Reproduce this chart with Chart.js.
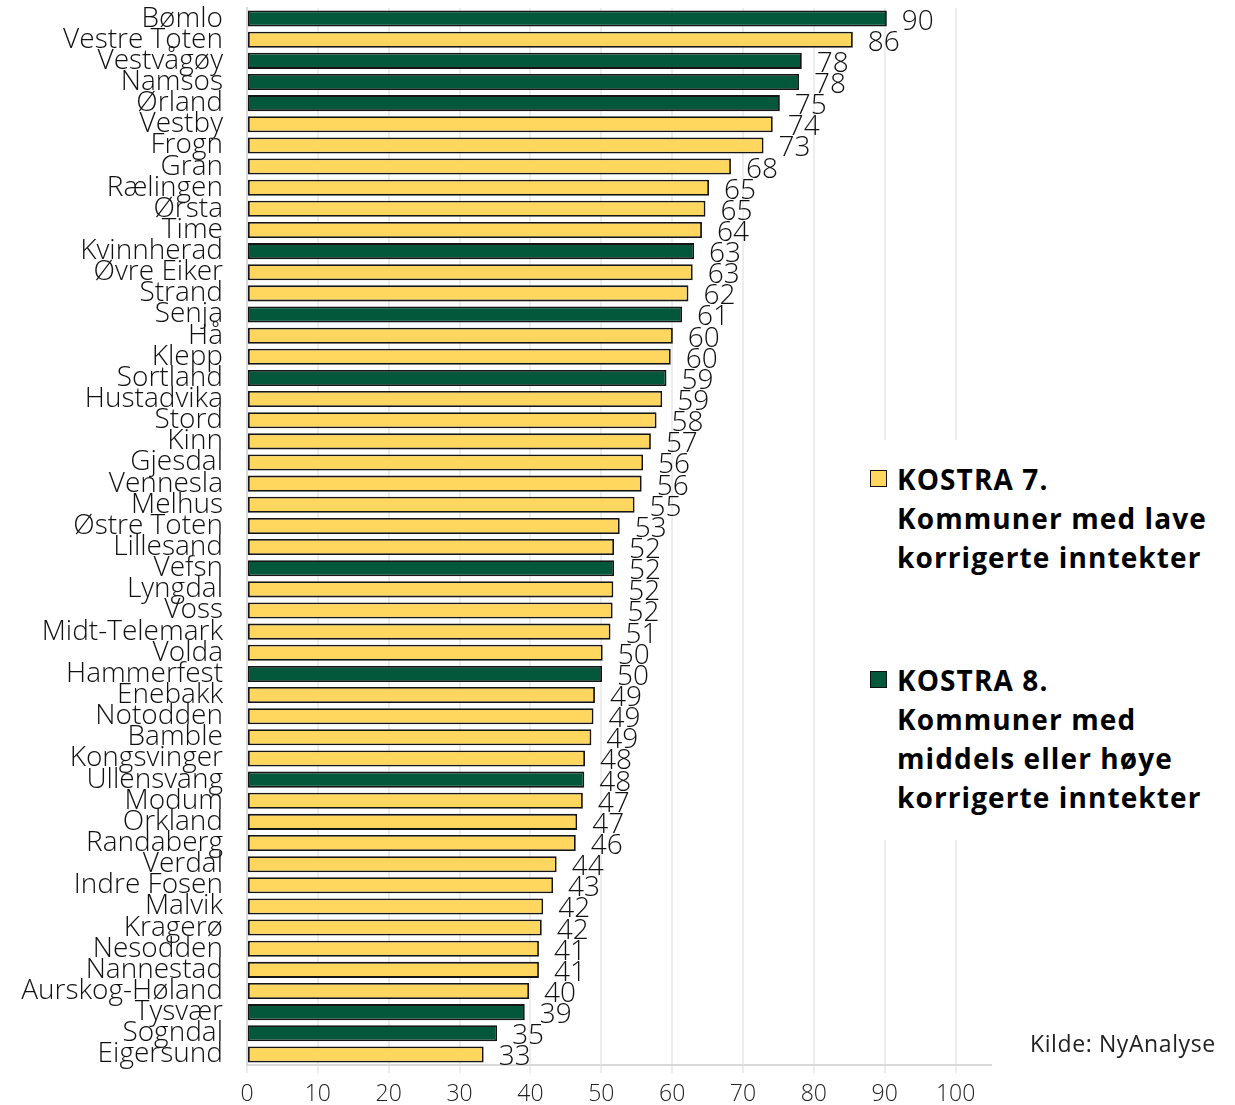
<!DOCTYPE html>
<html lang="no">

<head>
  <meta charset="UTF-8" />
  <title>KOSTRA 7 og 8</title>
  <script src="https://cdn.jsdelivr.net/npm/chart.js"></script>
  <style>
    body {
      margin: 0;
      background: #fff;
    }

    #wrap {
      position: relative;
      width: 1235px;
      height: 1105px;
    }

    #legendBox {
      position: absolute;
      left: 860px;
      top: 440px;
      width: 375px;
      height: 400px;
      background: #fff;
      font-family: "Century Gothic", "Open Sans", sans-serif;
      font-weight: 700;
      font-size: 28px;
      line-height: 39px;
      letter-spacing: 1.1px;
      color: #000;
    }

    .leg {
      position: absolute;
      left: 37px;
      white-space: nowrap;
    }

    .sq {
      position: absolute;
      left: 10px;
      width: 15px;
      height: 15px;
      border: 1.5px solid #111;
    }

    #kilde {
      position: absolute;
      left: 1030px;
      top: 1027px;
      font-family: "Century Gothic", "Open Sans", sans-serif;
      font-size: 23px;
      letter-spacing: 0.6px;
      color: #222;
    }
  </style>
</head>

<body>
  <div id="wrap">
    <canvas id="myChart01" width="1235" height="1105"></canvas>
    <div id="legendBox">
      <div class="sq" style="top:30px;background:#ffd75e"></div>
      <div class="leg" style="top:20px">KOSTRA 7.<br>Kommuner med lave<br>korrigerte inntekter</div>
      <div class="sq" style="top:231px;background:#03573a"></div>
      <div class="leg" style="top:221px">KOSTRA 8.<br>Kommuner med<br>middels eller høye<br>korrigerte inntekter</div>
    </div>
    <div id="kilde">Kilde: NyAnalyse</div>
  </div>

  <script>
    // kommuner (fra toppen)
    const kommuner = [
      "Bømlo", "Vestre Toten", "Vestvågøy", "Namsos", "Ørland", "Vestby", "Frogn", "Gran",
      "Rælingen", "Ørsta", "Time", "Kvinnherad", "Øvre Eiker", "Strand", "Senja", "Hå",
      "Klepp", "Sortland", "Hustadvika", "Stord", "Kinn", "Gjesdal", "Vennesla", "Melhus",
      "Østre Toten", "Lillesand", "Vefsn", "Lyngdal", "Voss", "Midt-Telemark", "Volda",
      "Hammerfest", "Enebakk", "Notodden", "Bamble", "Kongsvinger", "Ullensvang", "Modum",
      "Orkland", "Randaberg", "Verdal", "Indre Fosen", "Malvik", "Kragerø", "Nesodden",
      "Nannestad", "Aurskog-Høland", "Tysvær", "Sogndal", "Eigersund"
    ];

    // verdier lest av bildet
    const verdier = [
      90.3, 85.5, 78.3, 77.9, 75.2, 74.2, 72.9, 68.3,
      65.2, 64.7, 64.2, 63.1, 62.9, 62.3, 61.4, 60.1,
      59.8, 59.2, 58.6, 57.8, 57.0, 55.9, 55.7, 54.7,
      52.6, 51.8, 51.8, 51.7, 51.6, 51.3, 50.2,
      50.1, 49.1, 48.9, 48.6, 47.7, 47.6, 47.4,
      46.6, 46.4, 43.7, 43.2, 41.8, 41.6, 41.2,
      41.2, 39.8, 39.2, 35.3, 33.4
    ];

    // KOSTRA-gruppe per kommune
    const gruppe = [
      8, 7, 8, 8, 8, 7, 7, 7,
      7, 7, 7, 8, 7, 7, 8, 7,
      7, 8, 7, 7, 7, 7, 7, 7,
      7, 7, 8, 7, 7, 7, 7,
      8, 7, 7, 7, 7, 8, 7,
      7, 7, 7, 7, 7, 7, 7,
      7, 7, 8, 8, 7
    ];

    const xTicks = [0, 10, 20, 30, 40, 50, 60, 70, 80, 90, 100];

    const gul = "#ffd75e";
    const gronn = "#03573a";
    const tekstFont = "'Century Gothic', 'Open Sans', sans-serif";

    // tall ved enden av hver stolpe
    const verdiLabels = {
      id: "verdiLabels",
      afterDatasetsDraw(chart) {
        const ctx = chart.ctx;
        const meta = chart.getDatasetMeta(0);
        ctx.save();
        ctx.font = "300 28px " + tekstFont;
        ctx.fillStyle = "#111";
        ctx.textAlign = "left";
        ctx.textBaseline = "middle";
        meta.data.forEach((bar, i) => {
          ctx.fillText(Math.round(verdier[i]), bar.x + 15, bar.y + 3);
        });
        ctx.restore();
      },
    };

    const ctx01 = document.getElementById("myChart01");
    var mychart01 = new Chart(ctx01, {
      type: "bar",
      data: {
        labels: kommuner,
        datasets: [
          {
            data: verdier,
            backgroundColor: gruppe.map((g) => (g === 8 ? gronn : gul)),
            borderColor: "#151515",
            borderWidth: 1.8,
            borderSkipped: false,
            barPercentage: 0.76,
            categoryPercentage: 1,
          },
        ],
      },
      options: {
        indexAxis: "y",
        responsive: false,
        animation: false,
        layout: {
          padding: { top: 8, right: 244, bottom: 0, left: 0 },
        },
        plugins: {
          legend: { display: false },
          tooltip: { enabled: false },
        },
        scales: {
          x: {
            min: 0,
            max: 105,
            afterBuildTicks: (scale) => {
              scale.ticks = xTicks.map((v) => ({ value: v }));
            },
            afterFit: (scale) => {
              scale.height = 40;
            },
            grid: {
              color: "#ededed",
              lineWidth: 2,
              tickLength: 8,
            },
            border: { color: "#d9d9d9", width: 2 },
            ticks: {
              color: "#222",
              padding: 8,
              font: { family: tekstFont, size: 23, weight: 300 },
            },
          },
          y: {
            afterFit: (scale) => {
              scale.width = 247;
              scale.paddingTop = 0;
              scale.paddingBottom = 0;
            },
            grid: { display: false },
            border: { color: "#d9d9d9", width: 2 },
            ticks: {
              autoSkip: false,
              color: "#111",
              padding: 16,
              font: { family: tekstFont, size: 28, weight: 300 },
            },
          },
        },
      },
      plugins: [verdiLabels],
    });
  </script>
</body>

</html>
